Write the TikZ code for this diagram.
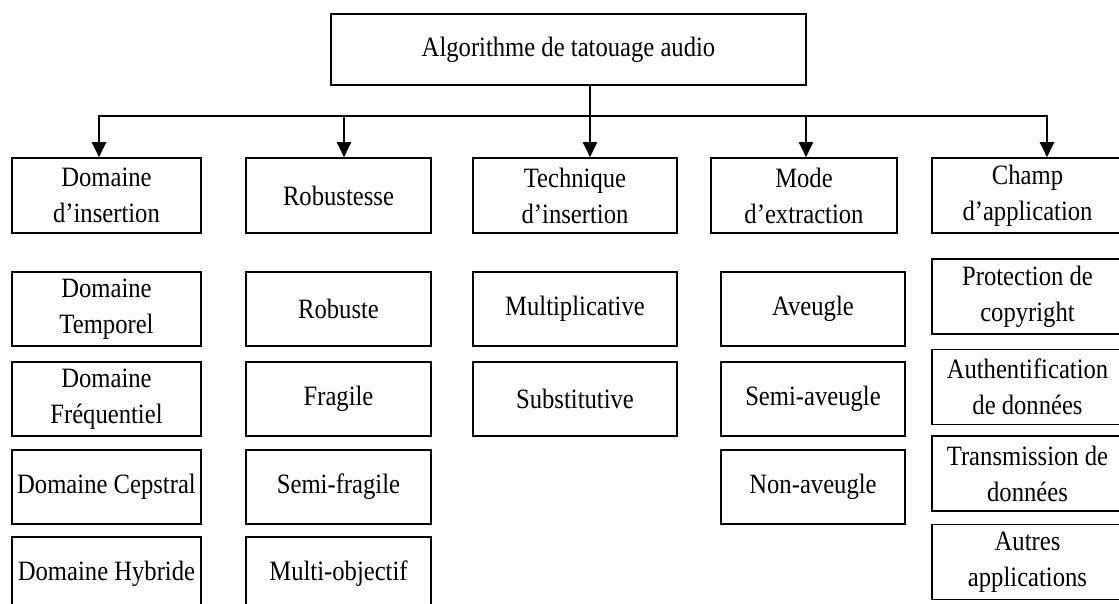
\documentclass[tikz,border=0pt]{standalone}
\usepackage{fontspec}
\setmainfont{Liberation Serif}[FakeStretch=0.88]
\usetikzlibrary{arrows.meta}
\begin{document}
\begin{tikzpicture}[x=1pt,y=-1pt,
  box/.style={draw, line width=1.6pt, inner sep=0pt, align=center,
    font=\fontsize{28}{36}\selectfont},
  topbox/.style={box, minimum width=475pt, minimum height=71pt},
  catbox/.style={box, minimum height=75pt},
  itembox/.style={box, minimum height=74pt},
  appbox/.style={box, minimum width=191pt, minimum height=75pt},
  link/.style={line width=2.2pt, line join=miter},
  tip/.tip={Triangle[length=15pt,width=14pt]},
  down/.style={link, -tip}]
\useasboundingbox (0,0) rectangle (1119,604);
\clip (0,0) rectangle (1119,604);

% root
\node[topbox] (root) at (568.5,49.5) {Algorithme de tatouage audio};

% categories
\node[catbox, minimum width=189pt] (c1) at (106.5,195.5) {Domaine\\d’insertion};
\node[catbox, minimum width=185pt] (c2) at (338.5,195.5) {Robustesse};
\node[catbox, minimum width=204pt] (c3) at (575,195.5) {Technique\\d’insertion};
\node[catbox, minimum width=186pt] (c4) at (804,195.5) {Mode\\d’extraction};
\node[catbox, minimum width=191pt] (c5) at (1027.5,195.5) {Champ\\d’application};

% insertion domains
\node[itembox, minimum width=189pt] (d1) at (106.5,309) {Domaine\\Temporel};
\node[itembox, minimum width=189pt] (d2) at (106.5,399) {Domaine\\Fréquentiel};
\node[itembox, minimum width=189pt] (d3) at (106.5,487) {Domaine Cepstral};
\node[itembox, minimum width=189pt] (d4) at (106.5,574) {Domaine Hybride};

% robustness
\node[itembox, minimum width=185pt] (r1) at (338.5,309) {Robuste};
\node[itembox, minimum width=185pt] (r2) at (338.5,399) {Fragile};
\node[itembox, minimum width=185pt] (r3) at (338.5,487) {Semi-fragile};
\node[itembox, minimum width=185pt] (r4) at (338.5,574) {Multi-objectif};

% insertion technique
\node[itembox, minimum width=204pt] (t1) at (575,309) {Multiplicative};
\node[itembox, minimum width=204pt] (t2) at (575,399) {Substitutive};

% extraction mode
\node[itembox, minimum width=184pt] (m1) at (813,309) {Aveugle};
\node[itembox, minimum width=184pt] (m2) at (813,399) {Semi-aveugle};
\node[itembox, minimum width=184pt] (m3) at (813,487) {Non-aveugle};

% application field
\node[appbox] (a1) at (1027.5,296.5) {Protection de\\copyright};
\node[appbox] (a2) at (1027.5,387) {Authentification\\de données};
\node[appbox] (a3) at (1027.5,473.5) {Transmission de\\données};
\node[appbox] (a4) at (1027.5,562) {Autres\\applications};

% distribution bar
\coordinate (b1) at (99,116);
\coordinate (b2) at (344,116);
\coordinate (b3) at (590,116);
\coordinate (b4) at (806,116);
\coordinate (b5) at (1047,116);

\draw[link] (root.south -| b3) -- (b3);
\draw[link, tip-tip] (b1 |- c1.north) -- (b1) -- (b5) -- (b5 |- c5.north);
\draw[down] (b2) -- (b2 |- c2.north);
\draw[down] (b3) -- (b3 |- c3.north);
\draw[down] (b4) -- (b4 |- c4.north);
\end{tikzpicture}
\end{document}
